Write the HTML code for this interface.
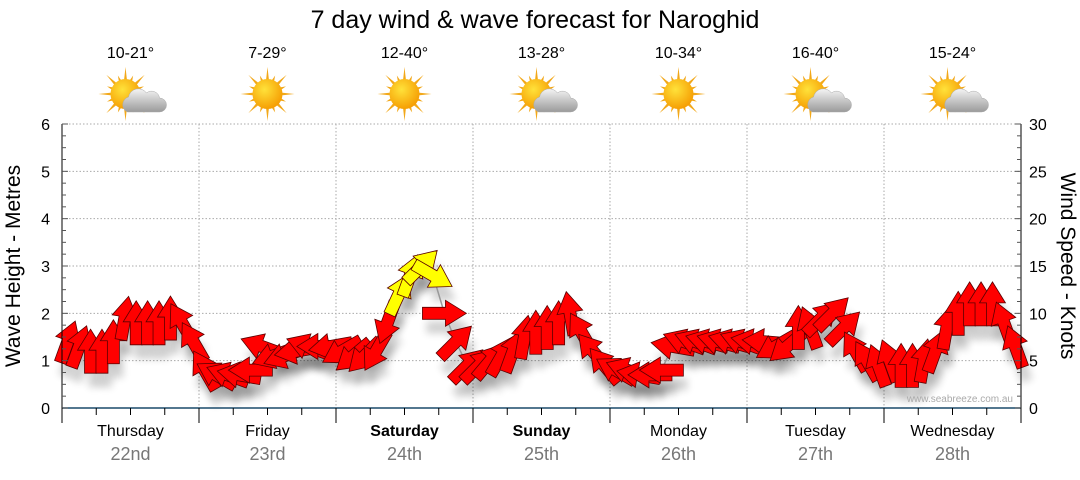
<!DOCTYPE html>
<html><head><meta charset="utf-8"><style>
body{margin:0;background:#fff;font-family:"Liberation Sans",sans-serif}
svg text{font-family:"Liberation Sans","DejaVu Sans",sans-serif}
</style></head><body>
<svg id="c" width="1080" height="475" viewBox="0 0 1080 475">
<defs>
<radialGradient id="sunG" cx="0.4" cy="0.35" r="0.7"><stop offset="0" stop-color="#ffe23a"/><stop offset="1" stop-color="#f59a00"/></radialGradient>
<linearGradient id="cloudG" x1="0" y1="0" x2="0" y2="1"><stop offset="0" stop-color="#f4f4f4"/><stop offset="1" stop-color="#9a9a9a"/></linearGradient>
<filter id="sh" x="-50%" y="-50%" width="200%" height="200%"><feGaussianBlur stdDeviation="4"/></filter>
</defs>
<text x="535" y="28" font-size="25" text-anchor="middle" fill="#000">7 day wind &amp; wave forecast for Naroghid</text>
<g id="header"></g>
<g id="grid"></g>
<g id="shadows"></g>
<g id="line"></g>
<g id="arrows"></g>
<g id="axes"></g>
<text x="1013" y="402" font-size="10" text-anchor="end" fill="#aaa">www.seabreeze.com.au</text>
<text transform="translate(20,266) rotate(-90)" font-size="21" text-anchor="middle">Wave Height - Metres</text>
<text transform="translate(1061,266) rotate(90)" font-size="21" text-anchor="middle">Wind Speed - Knots</text>
</svg>
<script>
const days=["Thursday","Friday","Saturday","Sunday","Monday","Tuesday","Wednesday"];
const dates=["22nd","23rd","24th","25th","26th","27th","28th"];
const boldDays=[false,false,true,true,false,false,false];
const temps=["10-21°","7-29°","12-40°","13-28°","10-34°","16-40°","15-24°"];
const cloudy=[true,false,false,true,false,true,true];
const leftTicks=[0,1,2,3,4,5,6];
const rightTicks=[0,5,10,15,20,25,30];
const windSpeed=[7,6.5,6,6,7,9.5,9,9,9,9.5,9,7,
 4,3.5,3.5,3.5,4,6.5,5.5,5.5,6,6.5,6.5,6.5,
 6,5.5,5.5,6,9,12,14,15,14,10,7,4.5,
 4.5,5,5.5,6,7.5,8,8.5,9,10,8,6,4.5,
 4,4,3.5,3.5,4,6.5,7,7,7,7,7,7,
 7,7,6.5,6.5,8.5,8.5,9.5,10,8.5,6,5,4.5,
 5,4.5,4.5,5,6,8.5,10,11,11,11,9,6.5];
const windDir=[20,20,0,0,0,10,0,0,0,0,330,330,
 330,300,290,280,270,290,250,250,260,290,270,260,
 240,230,225,210,200,25,20,45,120,90,45,45,
 45,40,30,20,10,0,0,0,350,330,320,320,
 300,290,280,270,270,280,290,290,285,285,285,290,
 280,275,240,230,0,340,45,45,45,330,330,340,
 340,0,0,10,20,10,0,0,0,0,340,340];
const X0=62,X1=1021,Y0=408,Y1=124;
const dayW=(X1-X0)/7;
function xAt(i){return X0+(i+0.5)*(X1-X0)/windSpeed.length;}
function yM(m){return Y0-(Y0-Y1)*m/6;}
function yK(k){return Y0-(Y0-Y1)*k/30;}
const NS="http://www.w3.org/2000/svg";
function mk(t,a,p){const e=document.createElementNS(NS,t);for(const k in a)e.setAttribute(k,a[k]);p.appendChild(e);return e;}
const G=id=>document.getElementById(id);
temps.forEach((t,i)=>{const cx=X0+dayW*(i+0.5);
 const tx=mk('text',{x:cx,y:58,'font-size':16,'text-anchor':'middle'},G('header'));tx.textContent=t;
 
 
 const g=mk('g',{},G('header'));
 
 
 const sx=cloudy[i]?cx-5:cx, sy=94;
 for(let r=0;r<16;r++){const a=r*Math.PI/8,L=r%2?20:27;
  const p=[[sx+Math.cos(a)*L,sy+Math.sin(a)*L],[sx+Math.cos(a+0.12)*13,sy+Math.sin(a+0.12)*13],[sx+Math.cos(a-0.12)*13,sy+Math.sin(a-0.12)*13]];
  mk('polygon',{points:p.map(q=>q.join(',')).join(' '),fill:'#f2a81a'},g);}
 mk('circle',{cx:sx,cy:sy,r:15,fill:'url(#sunG)'},g);
 if(cloudy[i]){mk('path',{d:`M${cx-3} ${sy+18} a8 8 0 0 1 1-15 a10 10 0 0 1 18-4 a8 8 0 0 1 13 5 a7 7 0 0 1 0 14 z`,fill:'url(#cloudG)',stroke:'#aaa','stroke-width':0.5},g);}
});
for(let m=1;m<=6;m++)mk('line',{x1:X0,x2:X1,y1:yM(m),y2:yM(m),stroke:'#aaa','stroke-dasharray':'1.5,2','stroke-width':1},G('grid'));
for(let d=1;d<7;d++){const x=X0+d*dayW;mk('line',{x1:x,x2:x,y1:Y1,y2:Y0,stroke:'#aaa','stroke-dasharray':'1.5,2'},G('grid'));}
const ax=G('axes');
mk('line',{x1:X0,x2:X1,y1:Y0,y2:Y0,stroke:'#1a4a6a','stroke-width':1.5},ax);
mk('line',{x1:X0,x2:X0,y1:Y1,y2:Y0,stroke:'#000'},ax);
mk('line',{x1:X1,x2:X1,y1:Y1,y2:Y0,stroke:'#000'},ax);
for(let k=0;k<=24;k++){const y=yM(k/4),L=k%4?4:6;mk('line',{x1:X0,x2:X0+L,y1:y,y2:y,stroke:'#555'},ax);mk('line',{x1:X1-L,x2:X1,y1:y,y2:y,stroke:'#555'},ax);}
leftTicks.forEach(v=>{const t=mk('text',{x:50,y:yM(v)+6,'font-size':16,'text-anchor':'end'},ax);t.textContent=v;
 
 });
rightTicks.forEach(v=>{const t=mk('text',{x:1029,y:yK(v)+6,'font-size':16},ax);t.textContent=v;
 
 });
for(let h=0;h<=28;h++){const x=X0+h*dayW/4;mk('line',{x1:x,x2:x,y1:Y0,y2:Y0+(h%4?7:15),stroke:'#000'},ax);}
days.forEach((d,i)=>{const cx=X0+dayW*(i+0.5);
 const t=mk('text',{x:cx,y:436,'font-size':16,'text-anchor':'middle','font-weight':boldDays[i]?'bold':'normal'},ax);t.textContent=d;
 
 
 const t2=mk('text',{x:cx,y:460,'font-size':18,'text-anchor':'middle',fill:'#777'},ax);t2.textContent=dates[i];
 
 });
const pl=mk('polyline',{points:windSpeed.map((v,i)=>xAt(i)+','+yK(v)).join(' '),fill:'none',stroke:'#999','stroke-width':1.5},G('line'));


const shape="0,-22 13,-1 6,-1 6,22 -6,22 -6,-1 -13,-1";
windSpeed.forEach((v,i)=>{
 const x=xAt(i),y=yK(v);
 const s=mk('polygon',{points:shape,fill:'#000',opacity:0.18,filter:'url(#sh)',transform:`translate(${x+4},${y+14}) rotate(${windDir[i]})`},G('shadows'));
 
 
 const a=mk('polygon',{points:shape,fill:v>=12?'#ffff00':'#ff0000',stroke:'#5a0000','stroke-width':0.8,transform:`translate(${x},${y}) rotate(${windDir[i]})`},G('arrows'));
 
 
});
</script>
</body></html>
